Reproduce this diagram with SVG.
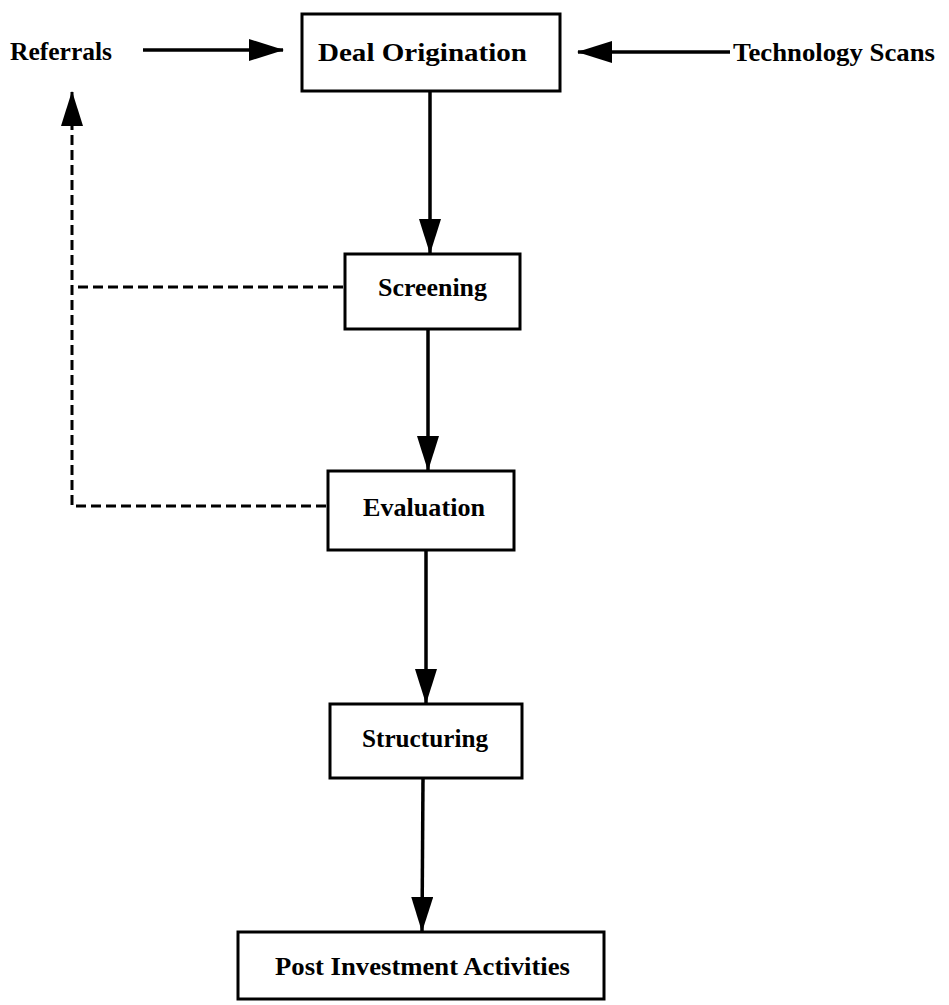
<svg xmlns="http://www.w3.org/2000/svg" width="949" height="1005" viewBox="0 0 949 1005">
<style>
  .box { fill: #fff; stroke: #000; stroke-width: 3; }
  .lbl { font-family: "Liberation Serif", "Times New Roman", serif; font-size: 26px; font-weight: bold; fill: #000; }
  .solid { fill: none; stroke: #000; stroke-width: 3.5; }
  .dash { fill: none; stroke: #000; stroke-width: 3; stroke-dasharray: 10 5; }
</style>
<defs>
  <marker id="arr" markerUnits="userSpaceOnUse" markerWidth="35" markerHeight="22" refX="34" refY="11" orient="auto">
    <path d="M0,0 L35,11 L0,22 z" fill="#000"/>
  </marker>
</defs>
<rect width="949" height="1005" fill="#fff"/>
<g id="connectors">
  <line class="solid" x1="143" y1="50" x2="283" y2="50" marker-end="url(#arr)"/>
  <line class="solid" x1="730" y1="52" x2="578" y2="52" marker-end="url(#arr)"/>
  <line class="solid" x1="430" y1="91" x2="430" y2="253" marker-end="url(#arr)"/>
  <line class="solid" x1="428" y1="329" x2="428" y2="470" marker-end="url(#arr)"/>
  <line class="solid" x1="426" y1="550" x2="426" y2="703" marker-end="url(#arr)"/>
  <line class="solid" x1="423" y1="778" x2="422" y2="931" marker-end="url(#arr)"/>
  <polyline class="dash" points="343,287 72,287"/>
  <polyline class="dash" points="326,506 72,506 72,92" marker-end="url(#arr)"/>
</g>
<g id="referrals">
  <text class="lbl" x="10" y="60" textLength="102" lengthAdjust="spacingAndGlyphs">Referrals</text>
</g>
<g id="technology-scans">
  <text class="lbl" x="733" y="61" textLength="202" lengthAdjust="spacingAndGlyphs">Technology Scans</text>
</g>
<g id="deal-origination">
  <rect class="box" x="302" y="14" width="258" height="77"/>
  <text class="lbl" x="318" y="61" textLength="209" lengthAdjust="spacingAndGlyphs">Deal Origination</text>
</g>
<g id="screening">
  <rect class="box" x="345" y="254" width="175" height="75"/>
  <text class="lbl" x="378" y="296" textLength="109" lengthAdjust="spacingAndGlyphs">Screening</text>
</g>
<g id="evaluation">
  <rect class="box" x="328" y="471" width="186" height="79"/>
  <text class="lbl" x="363" y="516" textLength="122" lengthAdjust="spacingAndGlyphs">Evaluation</text>
</g>
<g id="structuring">
  <rect class="box" x="330" y="704" width="192" height="74"/>
  <text class="lbl" x="362" y="747" textLength="126" lengthAdjust="spacingAndGlyphs">Structuring</text>
</g>
<g id="post-investment">
  <rect class="box" x="238" y="932" width="366" height="67"/>
  <text class="lbl" x="275" y="975" textLength="295" lengthAdjust="spacingAndGlyphs">Post Investment Activities</text>
</g>
</svg>
